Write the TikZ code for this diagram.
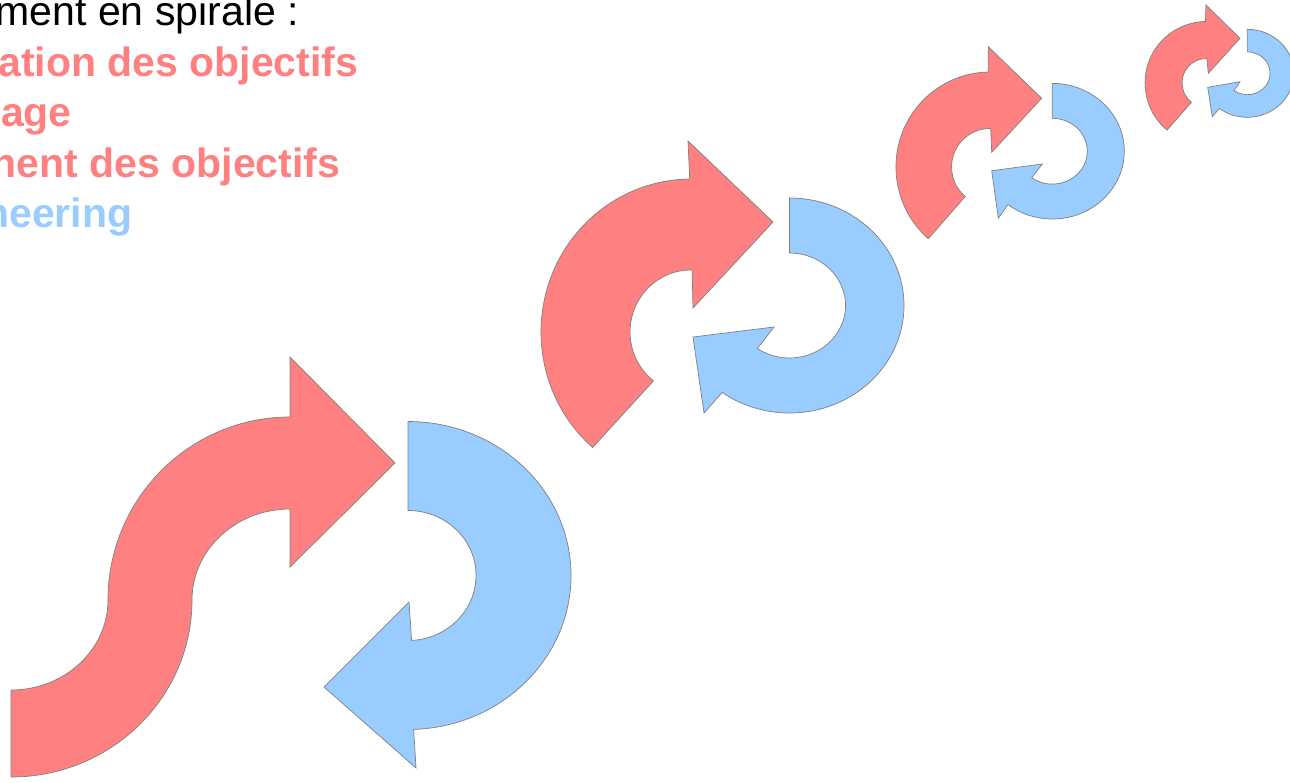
\documentclass[tikz,border=0pt]{standalone}
\usepackage{fontspec}
\setmainfont{Liberation Sans}
\usetikzlibrary{positioning}
\definecolor{arrowred}{HTML}{FF8080}
\definecolor{arrowblue}{HTML}{99CCFF}
\definecolor{edgegray}{HTML}{808080}

\begin{document}
\begin{tikzpicture}[x=1pt, y=-1pt, every node/.style={inner sep=0pt, anchor=base east, font=\fontsize{41}{48}\selectfont}, redarrow/.style={fill=arrowred, draw=edgegray, line width=0.7pt}, bluearrow/.style={fill=arrowblue, draw=edgegray, line width=0.7pt}]
			\useasboundingbox (0,0) rectangle (1290,782);
			\clip (0,0) rectangle (1290,782);
			\node (title) at (299,25) {ment en spirale :};
			\node[text=arrowred, font=\fontsize{41}{48}\selectfont\bfseries] (obj) at (358.5,76) {ation des objectifs};
			\node[text=arrowred, font=\fontsize{41}{48}\selectfont\bfseries] (proto) at (72,126.5) {age};
			\node[text=arrowred, font=\fontsize{41}{48}\selectfont\bfseries] (raff) at (340.5,177) {nent des objectifs};
			\node[text=arrowblue, font=\fontsize{41}{48}\selectfont\bfseries] (eng) at (132.5,227.5) {neering};
			\draw[redarrow] (11,690) arc[start angle=90, end angle=0, x radius=97, y radius=90]
				arc[start angle=180, end angle=270, x radius=182, y radius=183]
				-- (290,357) -- (395,463) -- (290,567) -- (290,509)
				arc[start angle=270, end angle=180, x radius=98, y radius=91]
				arc[start angle=0, end angle=90, x radius=181, y radius=177] -- cycle;
			\draw[bluearrow] (408,421.5) arc[start angle=-90, end angle=88, x radius=163, y radius=154]
				-- (416,768) -- (324,687) -- (409,602) -- (411.6,640.4)
				arc[start angle=87, end angle=-90, x radius=68, y radius=65] -- cycle;
			\draw[redarrow] (592.6,447.5) arc[start angle=131, end angle=269.5, x radius=150, y radius=153]
				-- (688,141) -- (773,222) -- (693,308) -- (692.1,270)
				arc[start angle=271, end angle=128, x radius=61, y radius=62] -- cycle;
			\draw[bluearrow] (789.5,198) arc[start angle=-90, end angle=126, x radius=114.5, y radius=107.5]
				-- (704,413) -- (693,337) -- (774,327) -- (757.4,348.5)
				arc[start angle=125, end angle=-90, x radius=56, y radius=52.5] -- cycle;
			\draw[redarrow] (928.3,238.7) arc[start angle=131, end angle=269, x radius=94, y radius=95]
				-- (988.3,46.7) -- (1041.7,98.3) -- (991.7,152.3) -- (990.7,128.5)
				arc[start angle=271, end angle=130, x radius=38.5, y radius=38.5] -- cycle;
			\draw[bluearrow] (1052.3,83.4) arc[start angle=-90, end angle=128, x radius=72, y radius=67.8]
				-- (998.3,218.3) -- (991.7,170.7) -- (1042.3,164) -- (1031.7,177.8)
				arc[start angle=126, end angle=-90, x radius=35, y radius=32.9] -- cycle;
			\draw[redarrow] (1167,130.1) arc[start angle=130, end angle=269, x radius=61.5, y radius=61.5]
				-- (1206,5) -- (1240,38.3) -- (1208.3,73.3) -- (1206.9,58.5)
				arc[start angle=271, end angle=128, x radius=24.5, y radius=24.5] -- cycle;
			\draw[bluearrow] (1247.3,29.3) arc[start angle=-90, end angle=127, x radius=46.5, y radius=44]
				-- (1212.3,116.7) -- (1207.7,87.3) -- (1240,81.7) -- (1234,90.6)
				arc[start angle=126, end angle=-90, x radius=22.7, y radius=21.4] -- cycle;
		\end{tikzpicture}
\end{document}
